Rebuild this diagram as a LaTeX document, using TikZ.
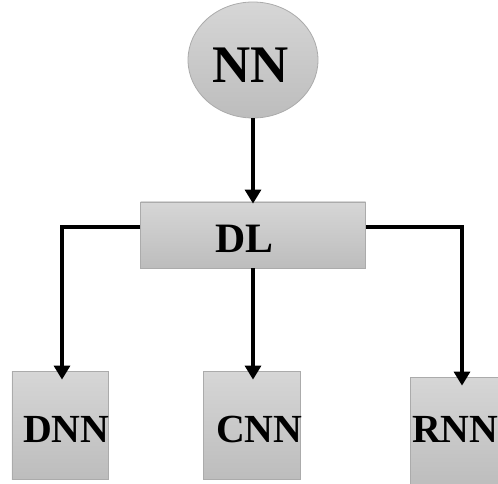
\documentclass[tikz,border=0pt]{standalone}
\usepackage{fontspec}
\setmainfont{Liberation Serif}
\usetikzlibrary{shapes.geometric,arrows.meta}
\begin{document}
\begin{tikzpicture}[x=1bp,y=-1bp,
  boxfill/.style={draw=black!33,line width=0.8bp,top color=black!16,bottom color=black!26,inner sep=0pt},
  lbl/.style={anchor=base west,inner sep=0pt,font=\bfseries\fontsize{40}{40}\selectfont},
  conn/.style={line width=3.2bp,-{Triangle[width=16bp,length=14bp]}}]
\useasboundingbox (0,0) rectangle (498,484);
\node[boxfill,ellipse,minimum width=130bp,minimum height=116bp] (NN) at (253,60) {};
\node[boxfill,rectangle,minimum width=225bp,minimum height=66bp] (DL) at (253,235) {};
\node[boxfill,rectangle,minimum width=96bp,minimum height=108bp] (DNN) at (60,425) {};
\node[boxfill,rectangle,minimum width=97bp,minimum height=108bp] (CNN) at (251.5,425) {};
\node[boxfill,rectangle,minimum width=104bp,minimum height=110bp] (RNN) at (462,432) {};
\node[lbl,font=\bfseries\fontsize{53}{53}\selectfont] (tNN) at (212,83) {NN};
\node[lbl,font=\bfseries\fontsize{42}{42}\selectfont] (tDL) at (215,252) {DL};
\node[lbl] (tDNN) at (23,442) {DNN};
\node[lbl] (tCNN) at (216,442) {CNN};
\node[lbl] (tRNN) at (412,442) {RNN};
\draw[conn,shorten >=-2bp] (NN.south) -- (DL.north);
\draw[conn,shorten >=-9bp] ([yshift=8bp]DL.west) -| ([xshift=2bp]DNN.north);
\draw[conn,shorten >=-9bp] (DL.south) -- ([xshift=1.5bp]CNN.north);
\draw[conn,shorten >=-9bp] ([yshift=8bp]DL.east) -| (RNN.north);
\end{tikzpicture}
\end{document}
